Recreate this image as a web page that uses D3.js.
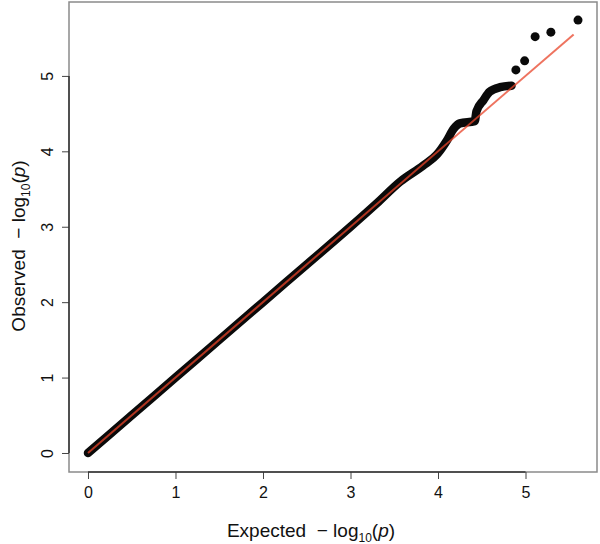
<!DOCTYPE html>
<html>
<head>
<meta charset="utf-8">
<script src="https://cdn.jsdelivr.net/npm/d3@7"></script>
<style>
  body { margin: 0; background: #fff; }
  text { font-family: "Liberation Sans", Arial, sans-serif; fill: #111; }
</style>
</head>
<body>
<div id="qq"></div>
<script>
var svgWidth = 600;
var svgHeight = 544;

// dense part of the QQ curve (expected, observed)
var bandExpected = [0, 0.5, 1.0, 1.5, 2.0, 2.5, 3.0, 3.3, 3.57, 3.83, 3.99, 4.10, 4.18, 4.25, 4.42, 4.44, 4.52, 4.59, 4.71, 4.84];
var bandObserved = [0, 0.5, 1.0, 1.5, 2.0, 2.5, 3.0, 3.31, 3.60, 3.81, 3.96, 4.14, 4.30, 4.37, 4.40, 4.53, 4.68, 4.79, 4.85, 4.87];

// separate top points
var topExpected = [4.89, 4.99, 5.11, 5.29, 5.60];
var topObserved = [5.08, 5.20, 5.52, 5.58, 5.74];

// expected = observed reference line
var refLine = [[0, 0], [5.55, 5.55]];

var xTicks = [0, 1, 2, 3, 4, 5];
var yTicks = [0, 1, 2, 3, 4, 5];

var plot = { left: 69, right: 597, top: 2, bottom: 472 };

var svg = d3.select("#qq")
    .append("svg")
    .attr("width", svgWidth)
    .attr("height", svgHeight);

var xScale = d3.scaleLinear()
    .domain([-0.217, 5.817])
    .range([plot.left, plot.right]);

var yScale = d3.scaleLinear()
    .domain([-0.252, 5.98])
    .range([plot.bottom, plot.top]);

//box round the plot
svg.append("rect")
    .attr("x", plot.left)
    .attr("y", plot.top)
    .attr("width", plot.right - plot.left)
    .attr("height", plot.bottom - plot.top)
    .attr("fill", "none")
    .attr("stroke", "#8a8a8a")
    .attr("stroke-width", 1.5);

//axes, R style: line spans the ticks only
var bottomAxis = d3.axisBottom(xScale).tickValues(xTicks).tickFormat(d3.format("d")).tickSize(7).tickPadding(8);
var leftAxis = d3.axisLeft(yScale).tickValues(yTicks).tickFormat(d3.format("d")).tickSize(7).tickPadding(6);

var xAxis = svg.append("g")
    .attr("transform", `translate(0, ${plot.bottom})`)
    .call(bottomAxis);
xAxis.select(".domain").remove();
xAxis.append("line")
    .attr("x1", xScale(0)).attr("x2", xScale(5))
    .attr("stroke", "#333").attr("stroke-width", 1.5);

var yAxis = svg.append("g")
    .attr("transform", `translate(${plot.left}, 0)`)
    .call(leftAxis);
yAxis.select(".domain").remove();
yAxis.append("line")
    .attr("y1", yScale(0)).attr("y2", yScale(5))
    .attr("stroke", "#333").attr("stroke-width", 1.5);

svg.selectAll(".tick line").attr("stroke", "#444");
xAxis.selectAll(".tick text")
    .style("font-size", "16px")
    .attr("fill", "#111");
//R draws the y labels turned on their side
yAxis.selectAll(".tick text")
    .style("font-size", "16px")
    .attr("fill", "#111")
    .attr("text-anchor", "middle")
    .attr("x", 0)
    .attr("y", 0)
    .attr("dy", "0.35em")
    .attr("transform", "translate(-22, 0) rotate(-90)");

//dense band of points
var band = bandExpected.map((e, i) => [e, bandObserved[i]]);
var line = d3.line()
    .x(d => xScale(d[0]))
    .y(d => yScale(d[1]))
    .curve(d3.curveMonotoneX);

svg.append("path")
    .datum(band)
    .attr("d", line)
    .attr("fill", "none")
    .attr("stroke", "#0a0a0a")
    .attr("stroke-width", 8.5)
    .attr("stroke-linecap", "round")
    .attr("stroke-linejoin", "round");

svg.selectAll(".topPoint")
    .data(topExpected)
    .enter()
    .append("circle")
    .attr("class", "topPoint")
    .attr("cx", d => xScale(d))
    .attr("cy", (d, i) => yScale(topObserved[i]))
    .attr("r", 4.5)
    .attr("fill", "#0a0a0a");

//reference line
svg.append("line")
    .attr("x1", xScale(refLine[0][0]))
    .attr("y1", yScale(refLine[0][1]))
    .attr("x2", xScale(refLine[1][0]))
    .attr("y2", yScale(refLine[1][1]))
    .attr("stroke", "#e8442a")
    .attr("stroke-opacity", 0.75)
    .attr("stroke-width", 2);

//axis titles
function addTitle(g, label) {
    g.append("tspan").text(label + "  \u2212 log");
    g.append("tspan").attr("dy", 5).style("font-size", "12px").text("10");
    g.append("tspan").attr("dy", -5).text("(");
    g.append("tspan").style("font-style", "italic").text("p");
    g.append("tspan").text(")");
}

var xTitle = svg.append("text")
    .attr("x", 311)
    .attr("y", 537)
    .attr("text-anchor", "middle")
    .style("font-size", "19px")
    .style("white-space", "pre");
addTitle(xTitle, "Expected");

var yTitle = svg.append("text")
    .attr("transform", "translate(25, 246) rotate(-90)")
    .attr("text-anchor", "middle")
    .style("font-size", "19px")
    .style("white-space", "pre");
addTitle(yTitle, "Observed");
</script>
</body>
</html>
